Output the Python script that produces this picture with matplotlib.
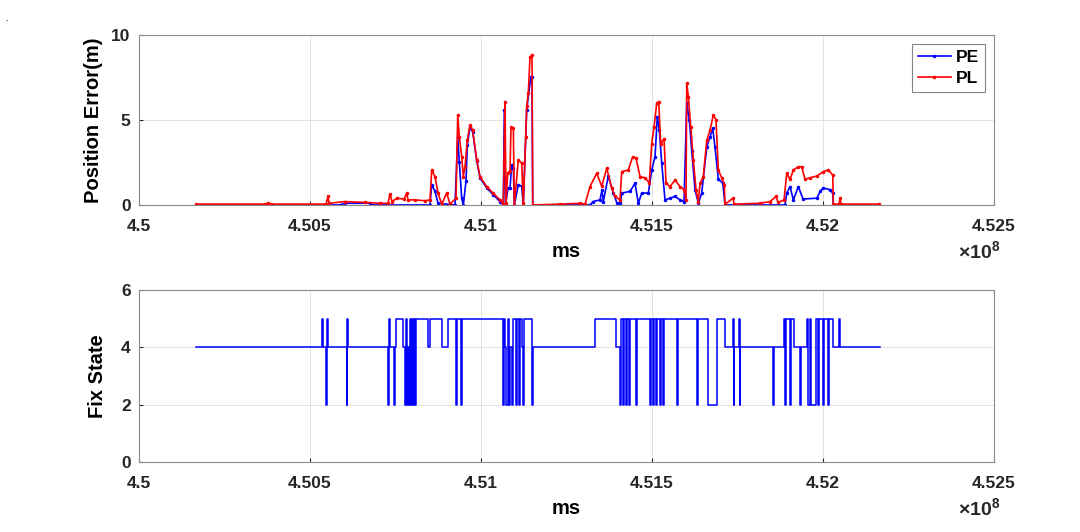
import numpy as np
import matplotlib
matplotlib.use('Agg')
import matplotlib.pyplot as plt
from matplotlib.ticker import FuncFormatter

plt.rcParams['font.family'] = ['Liberation Sans', 'DejaVu Sans']
plt.rcParams['font.weight'] = 'bold'
plt.rcParams['mathtext.fontset'] = 'custom'
plt.rcParams['mathtext.rm'] = 'Liberation Sans'
plt.rcParams['mathtext.bf'] = 'Liberation Sans:bold'

# time stamps in seconds (plotted in ms)
pl_t = [450166.7, 450368.4, 450377.2, 450386.0, 450546.8, 450552.6, 450555.6, 450602.3,
        450660.8, 450704.7, 450728.1, 450733.9, 450739.8, 450754.4, 450774.9, 450782.8,
        450786.6, 450807.0, 450836.3, 450850.9, 450855.9, 450865.5, 450874.3, 450885.1,
        450899.7, 450909.4, 450926.9, 450931.9, 450936.6, 450943.6, 450948.3, 450953.2,
        450959.9, 450967.8, 450975.7, 450987.4, 450997.1, 451016.7, 451036.0, 451055.6,
        451065.2, 451067.3, 451070.2, 451073.1, 451078.1, 451084.8, 451087.7, 451094.5,
        451097.4, 451109.1, 451119.0, 451123.7, 451130.7, 451133.6, 451138.3, 451143.3,
        451149.1, 451151.2, 451231.0, 451289.5, 451304.1, 451318.7, 451338.3, 451352.9,
        451367.6, 451382.2, 451391.8, 451406.4, 451411.4, 451430.7, 451443.6, 451453.2,
        451464.9, 451479.5, 451492.1, 451499.1, 451505.9, 451513.8, 451519.6, 451525.4,
        451535.1, 451541.0, 451552.6, 451567.3, 451581.9, 451593.6, 451599.4, 451601.5,
        451606.2, 451613.2, 451620.8, 451628.7, 451635.4, 451640.4, 451650.0, 451660.0,
        451669.6, 451679.3, 451687.1, 451693.9, 451703.8, 451711.4, 451713.5, 451736.9,
        451739.8, 451815.8, 451845.0, 451862.6, 451868.4, 451886.0, 451893.9, 451903.5,
        451913.2, 451927.8, 451937.7, 451947.4, 451962.0, 451981.6, 452000.9, 452015.5,
        452028.4, 452030.1, 452046.8, 452049.7, 452052.6, 452163.8]
pl = [0.05, 0.05, 0.1, 0.05, 0.05, 0.5, 0.1, 0.2,
      0.15, 0.1, 0.1, 0.65, 0.2, 0.4, 0.35, 0.7,
      0.3, 0.3, 0.25, 0.3, 2.06, 1.67, 0.7, 0.05,
      0.7, 0.05, 0.4, 5.3, 4.0, 2.84, 1.67, 2.25,
      3.8, 4.7, 4.4, 2.65, 1.67, 1.08, 0.69, 0.3,
      0.05, 2.5, 6.08, 0.1, 1.9, 2.0, 4.6, 4.5,
      0.0, 2.65, 2.45, 0.1, 4.0, 5.8, 6.6, 8.7,
      8.85, 0.0, 0.05, 0.1, 0.05, 1.08, 1.86, 1.1,
      2.16, 1.0, 0.5, 0.3, 1.96, 2.06, 2.84, 2.75,
      1.67, 1.6, 1.3, 3.6, 4.6, 5.98, 6.08, 3.6,
      3.9, 1.27, 1.08, 1.47, 1.08, 0.9, 0.3, 7.16,
      6.37, 4.6, 2.65, 0.9, 0.2, 1.27, 1.67, 3.8,
      4.4, 5.3, 5.0, 2.06, 1.6, 1.2, 0.05, 0.4,
      0.05, 0.1, 0.2, 0.5, 0.15, 0.3, 1.86, 1.5,
      2.06, 2.25, 2.25, 1.5, 1.6, 1.7, 1.96, 2.06,
      1.76, 0.05, 0.05, 0.4, 0.05, 0.05]

pe_t = [450166.7, 450587.7, 450602.3, 450675.4, 450681.3, 450850.9, 450855.9, 450865.5,
        450874.3, 450924.0, 450931.9, 450936.6, 450943.6, 450948.3, 450956.1, 450959.9,
        450967.8, 450975.7, 450987.4, 450997.1, 451016.7, 451036.0, 451055.6, 451065.2,
        451068.1, 451071.7, 451079.0, 451084.8, 451089.8, 451094.5, 451097.4, 451109.1,
        451119.0, 451123.7, 451133.6, 451145.3, 451149.1, 451151.2, 451318.7, 451327.5,
        451348.0, 451353.8, 451357.6, 451372.2, 451386.9, 451397.7, 451406.4, 451412.3,
        451435.7, 451450.3, 451460.0, 451469.9, 451489.2, 451499.1, 451508.8, 451515.5,
        451521.4, 451528.4, 451538.0, 451552.6, 451567.3, 451581.9, 451593.6, 451601.5,
        451609.1, 451616.1, 451625.7, 451635.4, 451645.3, 451660.0, 451669.6, 451677.5,
        451684.2, 451693.9, 451706.7, 451713.5, 451888.9, 451893.9, 451903.5, 451913.2,
        451927.8, 451941.5, 451982.5, 451991.2, 452000.9, 452020.5, 452028.4, 452030.1,
        452163.8]
pe = [0.0, 0.0, 0.1, 0.1, 0.0, 0.0, 1.2, 0.8,
      0.1, 0.0, 4.0, 2.5, 0.4, 0.0, 1.4, 3.5,
      4.6, 4.3, 2.6, 1.6, 1.0, 0.6, 0.2, 0.0,
      5.6, 0.0, 1.0, 1.0, 2.35, 2.2, 0.0, 1.2,
      1.1, 0.0, 5.6, 7.5, 7.5, 0.0, 0.0, 0.2,
      0.3, 0.9, 0.2, 1.7, 0.7, 0.1, 0.1, 0.7,
      0.8, 1.27, 0.1, 0.7, 0.7, 2.06, 2.84, 5.2,
      4.4, 2.45, 0.3, 0.4, 0.5, 0.3, 0.2, 6.0,
      5.0, 3.2, 0.9, 0.1, 0.7, 3.4, 4.0, 4.5,
      3.4, 1.5, 1.3, 0.0, 0.0, 0.7, 1.08, 0.3,
      1.08, 0.35, 0.4, 0.8, 1.0, 0.9, 0.7, 0.0,
      0.0]

fix_t = [450166.7, 450535.1, 450538.0, 450546.8, 450549.7, 450552.6, 450608.2, 450609.6,
         450611.1, 450728.1, 450731.0, 450733.9, 450745.6, 450748.5, 450751.5, 450771.9,
         450777.8, 450780.7, 450783.6, 450786.6, 450789.5, 450792.4, 450795.3, 450798.3,
         450801.2, 450804.1, 450807.0, 450809.9, 450845.0, 450850.9, 450886.0, 450903.5,
         450926.9, 450929.8, 450941.5, 450944.5, 451064.3, 451067.3, 451070.2, 451073.1,
         451079.0, 451081.9, 451084.8, 451090.7, 451093.6, 451102.3, 451105.3, 451111.1,
         451114.0, 451119.9, 451122.8, 451125.7, 451131.6, 451149.1, 451152.1, 451333.3,
         451394.7, 451406.4, 451409.3, 451415.2, 451418.1, 451424.0, 451426.9, 451432.8,
         451435.7, 451453.2, 451456.2, 451494.2, 451497.1, 451503.0, 451505.9, 451511.8,
         451514.7, 451523.5, 451526.4, 451532.2, 451535.1, 451573.1, 451576.1, 451631.6,
         451634.5, 451663.8, 451690.1, 451713.5, 451736.9, 451738.4, 451739.8, 451754.4,
         451755.9, 451757.3, 451853.8, 451856.7, 451885.9, 451888.8, 451891.8, 451903.5,
         451906.4, 451915.2, 451932.7, 451935.6, 451953.2, 451956.1, 451962.0, 451964.9,
         451976.6, 451979.5, 451985.4, 451988.3, 452000.0, 452002.9, 452014.6, 452017.6,
         452029.3, 452046.8, 452049.7, 452166.7]
fix_state = [4, 5, 4, 2, 5, 4, 2, 5,
             4, 2, 5, 4, 2, 4, 5, 4,
             2, 5, 2, 4, 2, 5, 2, 5,
             2, 5, 2, 5, 4, 5, 4, 5,
             2, 5, 2, 5, 2, 5, 4, 2,
             5, 2, 4, 2, 5, 2, 5, 2,
             5, 4, 2, 5, 5, 2, 4, 5,
             4, 2, 5, 2, 5, 2, 5, 2,
             5, 2, 5, 2, 5, 2, 5, 2,
             5, 2, 5, 2, 5, 2, 5, 2,
             5, 2, 5, 4, 5, 2, 4, 5,
             2, 4, 2, 4, 5, 2, 5, 2,
             5, 4, 2, 4, 5, 2, 5, 2,
             2, 5, 2, 5, 2, 5, 2, 5,
             4, 5, 4, 4]

xticks = [4.5e8, 4.505e8, 4.51e8, 4.515e8, 4.52e8, 4.525e8]

fig = plt.figure(figsize=(10.8, 5.32), dpi=100)
ax1 = fig.add_axes([0.1287, 0.6147, 0.7917, 0.3195])
ax2 = fig.add_axes([0.1287, 0.1316, 0.7917, 0.3233])

ms = lambda a: np.array(a) * 1e3

ax1.plot(ms(pe_t), pe, '.-', color='b', lw=1.2, ms=3, label='PE')
ax1.plot(ms(pl_t), pl, '.-', color='r', lw=1.2, ms=3, label='PL')
ax1.set_ylim(0, 10)
ax1.set_yticks([0, 5, 10])
ax1.set_ylabel('Position Error(m)', fontsize=14.5, fontweight='bold', labelpad=6)
leg = ax1.legend(loc='upper right', fontsize=12.5, frameon=True, fancybox=False,
                 handlelength=1.9, handletextpad=0.3, borderpad=0.35,
                 labelspacing=0.35, borderaxespad=0.5)
leg.get_frame().set_edgecolor('#666666')
leg.get_frame().set_linewidth(0.8)
for t in leg.get_texts():
    t.set_fontweight('bold')

ax2.plot(ms(fix_t), fix_state, '-', color='b', lw=1.1, drawstyle='steps-post')
ax2.set_ylim(0, 6)
ax2.set_yticks([0, 2, 4, 6])
ax2.set_ylabel('Fix State', fontsize=14.5, fontweight='bold', labelpad=10)

for ax in (ax1, ax2):
    ax.set_xlim(4.5e8, 4.525e8)
    ax.set_xticks(xticks)
    ax.xaxis.set_major_formatter(FuncFormatter(lambda v, p: f'{v / 1e8:g}'))
    ax.set_xlabel('ms', fontsize=14.5, fontweight='bold', labelpad=6)
    ax.grid(True, color='#e3e3e3', lw=0.7)
    ax.set_axisbelow(True)
    ax.tick_params(direction='in', length=3, labelsize=12.5, colors='#262626',
                   top=False, right=False)
    ax.tick_params(axis='x', pad=10)
    ax.tick_params(axis='y', pad=6)
    for s in ax.spines.values():
        s.set_color('#8a8a8a')
        s.set_linewidth(0.8)
    for lab in ax.get_xticklabels() + ax.get_yticklabels():
        lab.set_fontweight('bold')
    ax.text(1.007, -0.205, r'$\times\mathbf{10^{8}}$', transform=ax.transAxes,
            ha='right', va='top', fontsize=14, color='#262626')

fig.text(0.005, 0.96, '.', fontsize=6)
fig.savefig('out.png', dpi=100)
